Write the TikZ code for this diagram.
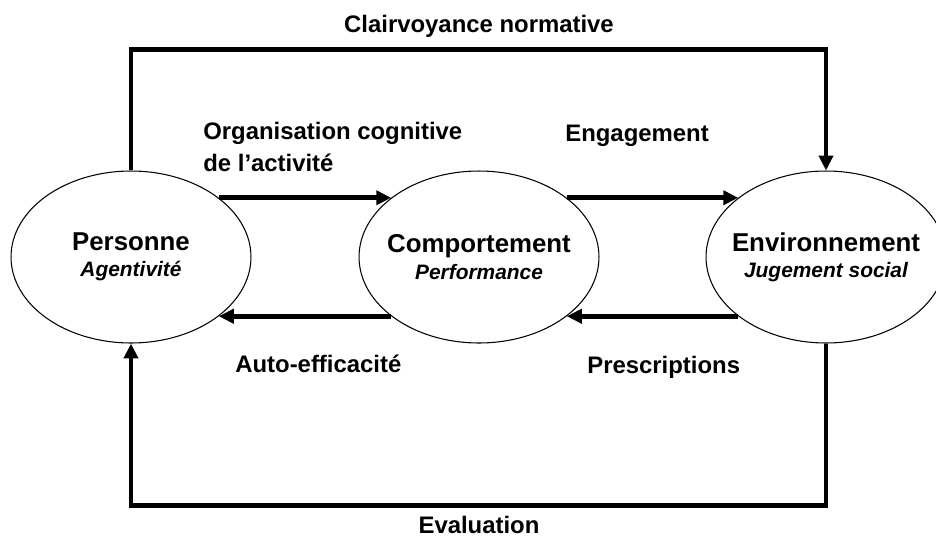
\documentclass[tikz,border=0pt]{standalone}
\usepackage{fontspec}
\setmainfont{Liberation Sans}
\usepackage{tikz}
\usetikzlibrary{arrows.meta,shapes.geometric}

\newcommand{\sous}[1]{{\fontsize{11.9}{14}\selectfont\itshape #1}}

\begin{document}
\begin{tikzpicture}[
  x=0.02cm,y=-0.02cm,
  pole/.style={ellipse,draw,line width=0.6pt,minimum width=4.8cm,
               minimum height=3.44cm,inner xsep=-8pt,align=center,
               font=\fontsize{14.7}{15}\selectfont\bfseries},
  lab/.style={font=\fontsize{13.6}{18}\selectfont\bfseries,inner sep=0pt,
              align=left},
  arr/.style={line width=2.8pt,-{Triangle[length=8.5pt,width=8pt]}}
]
\useasboundingbox (0,0) rectangle (936,538);
% ---- Poles ----
\node[pole] (pers) at (131,257) {Personne\\\sous{Agentivité}};
\node[pole] (comp) at (479,257) {Comportement\\\sous{Performance}};
\node[pole] (env)  at (826,257) {Environnement\\\sous{Jugement social}};
% ---- Labels ----
\node[lab,anchor=base] (clair) at (479,32) {Clairvoyance normative};
\node[lab,anchor=base west] (orga) at (203,171)
  {Organisation cognitive\\de l'activité};
\node[lab,anchor=base west] (engag) at (565,141) {Engagement};
\node[lab,anchor=base west] (auto)  at (235,372) {Auto-efficacité};
\node[lab,anchor=base west] (presc) at (587,373) {Prescriptions};
\node[lab,anchor=base] (eval) at (479,533) {Evaluation};
% ---- Edges ----
\draw[arr] (pers.34) -- (comp.146);
\draw[arr] (comp.34) -- (env.146);
\draw[arr] (comp.-146) -- (pers.-34);
\draw[arr] (env.-146) -- (comp.-34);
\draw[arr] (pers.north) -- ++(0,-121) -| (env.north);
\draw[arr] (env.south) -- ++(0,162) -| (pers.south);
\end{tikzpicture}
\end{document}
